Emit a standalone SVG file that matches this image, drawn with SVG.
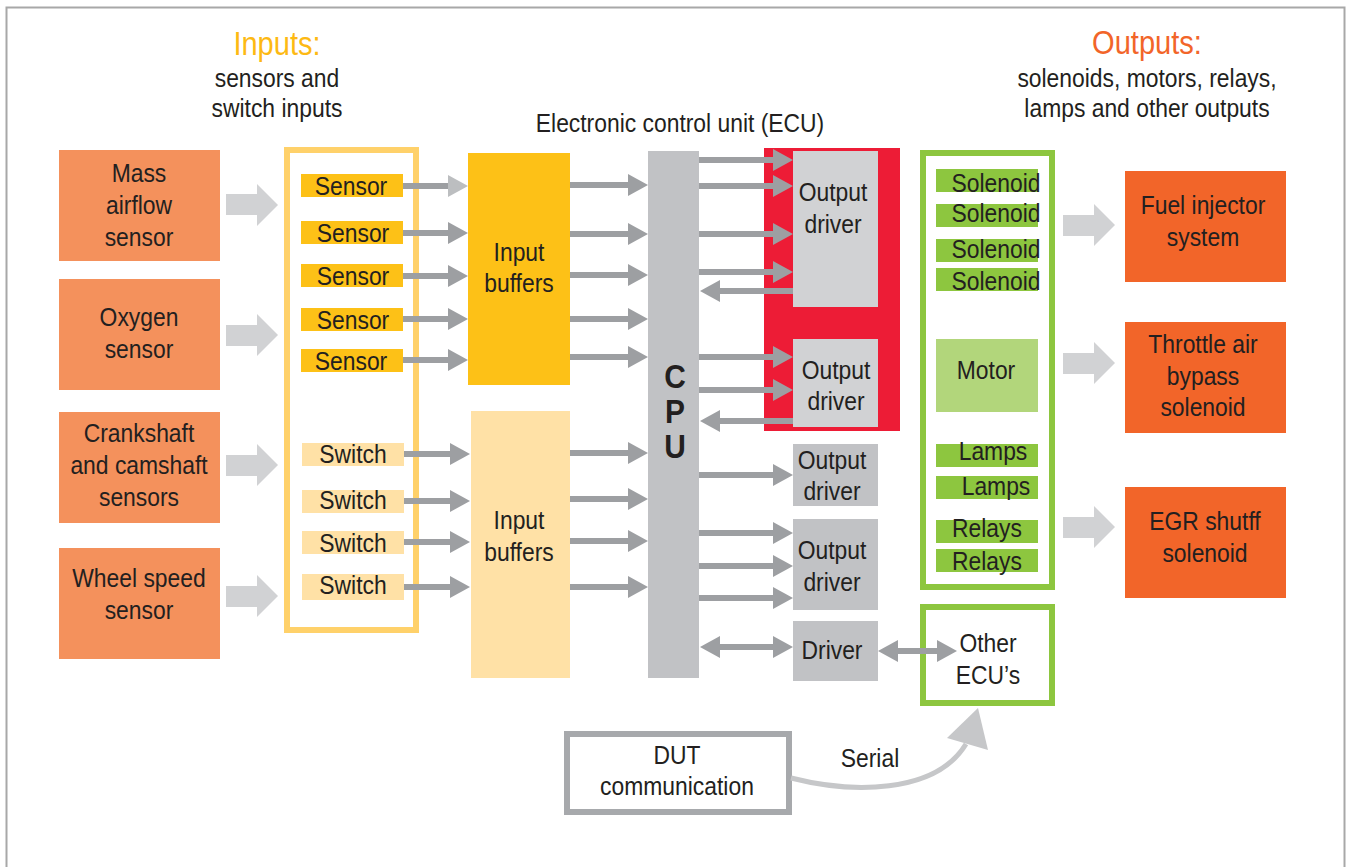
<svg xmlns="http://www.w3.org/2000/svg" width="1347" height="867" viewBox="0 0 1347 867">
<defs>
<style>
text{font-family:"Liberation Sans Narrow","Liberation Sans",Arial,sans-serif;fill:#231F20;text-anchor:middle;font-size:26px;transform-box:fill-box;transform-origin:center;transform:scaleX(0.88)}
.t{font-size:26px}
.h{font-size:33px}
.in{fill:#F4915C}
.out{fill:#F26529}
.blk{fill:#D1D2D4}
.yel{fill:#FDC117}
.lyel{fill:#FFE1A6}
.grn{fill:#8DC63F}
.cpu{fill:#C1C2C5}
.dl{fill:#D1D2D4}
.dd{fill:#C1C2C5}
.ar{stroke:#9D9FA2;stroke-width:6;fill:none;marker-end:url(#ah)}
.bi{stroke:#9D9FA2;stroke-width:6;fill:none;marker-end:url(#ah);marker-start:url(#ah)}
</style>
<marker id="ah" viewBox="0 0 20 22" refX="0" refY="11" markerWidth="20" markerHeight="22" markerUnits="userSpaceOnUse" orient="auto-start-reverse">
<path d="M0,0 L20,11 L0,22 Z" fill="#9D9FA2"/>
</marker>
<marker id="ahl" viewBox="0 0 20 22" refX="0" refY="11" markerWidth="20" markerHeight="22" markerUnits="userSpaceOnUse" orient="auto">
<path d="M0,0 L20,11 L0,22 Z" fill="#BCBEC0"/>
</marker>
</defs>
<rect x="0" y="0" width="1347" height="867" fill="#fff"/>
<rect x="6.5" y="7.5" width="1338" height="880" fill="none" stroke="#A8A8A8" stroke-width="2"/>

<g id="titles">
<text x="277" y="55" class="h" style="fill:#FDB913">Inputs:</text>
<text x="277" y="87" class="t">sensors and</text>
<text x="277" y="117" class="t">switch inputs</text>
<text x="1147" y="54" class="h" style="fill:#F26529">Outputs:</text>
<text x="1147" y="87" class="t">solenoids, motors, relays,</text>
<text x="1147" y="117" class="t">lamps and other outputs</text>
<text x="680" y="132" class="t">Electronic control unit (ECU)</text>
</g>

<g id="mass-airflow">
<rect class="in" x="59" y="150" width="161" height="111"/>
<text x="139" y="182">Mass</text><text x="139" y="214">airflow</text><text x="139" y="246">sensor</text>
</g>
<g id="oxygen">
<rect class="in" x="59" y="279" width="161" height="111"/>
<text x="139" y="326">Oxygen</text><text x="139" y="358">sensor</text>
</g>
<g id="crankshaft">
<rect class="in" x="59" y="412" width="161" height="111"/>
<text x="139" y="442">Crankshaft</text><text x="139" y="474">and camshaft</text><text x="139" y="506">sensors</text>
</g>
<g id="wheel-speed">
<rect class="in" x="59" y="548" width="161" height="111"/>
<text x="139" y="587">Wheel speed</text><text x="139" y="619">sensor</text>
</g>

<g id="input-frame">
<rect x="287" y="150" width="129" height="480" fill="none" stroke="#FFD16A" stroke-width="6"/>
<rect class="yel" x="301" y="174" width="102" height="23"/><text x="351" y="195">Sensor</text>
<rect class="yel" x="301" y="221" width="102" height="23"/><text x="353" y="242">Sensor</text>
<rect class="yel" x="301" y="264" width="102" height="23"/><text x="353" y="285">Sensor</text>
<rect class="yel" x="301" y="308" width="102" height="23"/><text x="353" y="329">Sensor</text>
<rect class="yel" x="301" y="349" width="102" height="23"/><text x="351" y="370">Sensor</text>
<rect class="lyel" x="302" y="443" width="102" height="23"/><text x="353" y="463">Switch</text>
<rect class="lyel" x="302" y="490" width="102" height="23"/><text x="353" y="509">Switch</text>
<rect class="lyel" x="302" y="531" width="102" height="23"/><text x="353" y="552">Switch</text>
<rect class="lyel" x="302" y="574" width="102" height="26"/><text x="353" y="594">Switch</text>
</g>

<g id="input-buffers-1">
<rect class="yel" x="468" y="153" width="102" height="232"/>
<text x="519" y="261">Input</text><text x="519" y="292">buffers</text>
</g>
<g id="input-buffers-2">
<rect class="lyel" x="471" y="411" width="99" height="267"/>
<text x="519" y="529">Input</text><text x="519" y="561">buffers</text>
</g>

<g id="cpu">
<rect class="cpu" x="648" y="151" width="51" height="527"/>
<text x="675" y="388" style="font-weight:bold;font-size:34px">C</text>
<text x="675" y="423" style="font-weight:bold;font-size:34px">P</text>
<text x="675" y="458" style="font-weight:bold;font-size:34px">U</text>
</g>

<g id="ecu-red">
<rect x="764" y="148" width="136" height="283" fill="#ED1C36"/>
</g>
<g id="output-driver-1">
<rect class="dl" x="793" y="151" width="85" height="156"/>
<text x="833" y="201">Output</text><text x="833" y="233">driver</text>
</g>
<g id="output-driver-2">
<rect class="dl" x="793" y="339" width="85" height="88"/>
<text x="836" y="379">Output</text><text x="836" y="410">driver</text>
</g>
<g id="output-driver-3">
<rect class="dd" x="793" y="444" width="85" height="62"/>
<text x="832" y="469">Output</text><text x="832" y="500">driver</text>
</g>
<g id="output-driver-4">
<rect class="dd" x="793" y="519" width="85" height="91"/>
<text x="832" y="559">Output</text><text x="832" y="591">driver</text>
</g>
<g id="driver">
<rect class="dd" x="793" y="621" width="85" height="60"/>
<text x="832" y="659">Driver</text>
</g>

<g id="output-frame">
<rect x="923" y="153" width="129" height="434" fill="none" stroke="#8DC63F" stroke-width="6"/>
<rect class="grn" x="936" y="169" width="102" height="23"/><text x="996" y="192">Solenoid</text>
<rect class="grn" x="936" y="204" width="102" height="23"/><text x="996" y="222">Solenoid</text>
<rect class="grn" x="936" y="239" width="102" height="23"/><text x="996" y="258">Solenoid</text>
<rect class="grn" x="936" y="268" width="102" height="23"/><text x="996" y="290">Solenoid</text>
<rect x="936" y="339" width="102" height="73" fill="#B2D67B"/><text x="986" y="379">Motor</text>
<rect class="grn" x="936" y="444" width="102" height="23"/><text x="993" y="460">Lamps</text>
<rect class="grn" x="936" y="476" width="102" height="23"/><text x="996" y="495">Lamps</text>
<rect class="grn" x="936" y="520" width="102" height="23"/><text x="987" y="537">Relays</text>
<rect class="grn" x="936" y="549" width="102" height="23"/><text x="987" y="570">Relays</text>
</g>

<g id="other-ecus">
<rect x="923" y="607" width="129" height="96" fill="none" stroke="#8DC63F" stroke-width="6"/>
<text x="988" y="652">Other</text><text x="988" y="684">ECU’s</text>
</g>

<g id="fuel-injector">
<rect class="out" x="1125" y="171" width="161" height="111"/>
<text x="1203" y="214">Fuel injector</text><text x="1203" y="246">system</text>
</g>
<g id="throttle">
<rect class="out" x="1125" y="322" width="161" height="111"/>
<text x="1203" y="353">Throttle air</text><text x="1203" y="385">bypass</text><text x="1203" y="416">solenoid</text>
</g>
<g id="egr">
<rect class="out" x="1125" y="487" width="161" height="111"/>
<text x="1205" y="530">EGR shutff</text><text x="1205" y="562">solenoid</text>
</g>

<g id="dut">
<rect x="567" y="734" width="222" height="78" fill="#fff" stroke="#A7A9AC" stroke-width="6"/>
<text x="677" y="764">DUT</text><text x="677" y="795">communication</text>
</g>

<g id="connectors">
<polygon class="blk" points="226,194 257,194 257,184 278,205 257,226 257,215 226,215"/>
<polygon class="blk" points="226,325 257,325 257,314 278,335 257,356 257,346 226,346"/>
<polygon class="blk" points="226,455 257,455 257,444 278,465 257,486 257,476 226,476"/>
<polygon class="blk" points="226,586 257,586 257,575 278,596 257,617 257,607 226,607"/>
<polygon class="blk" points="1063,215 1094,215 1094,204 1115,225 1094,246 1094,236 1063,236"/>
<polygon class="blk" points="1063,353 1094,353 1094,342 1115,363 1094,384 1094,374 1063,374"/>
<polygon class="blk" points="1063,517 1094,517 1094,506 1115,527 1094,548 1094,538 1063,538"/>

<line x1="403" y1="186" x2="448" y2="186" stroke="#9D9FA2" stroke-width="6" marker-end="url(#ahl)"/>
<line class="ar" x1="403" y1="233" x2="448" y2="233"/>
<line class="ar" x1="403" y1="276" x2="448" y2="276"/>
<line class="ar" x1="403" y1="319" x2="448" y2="319"/>
<line class="ar" x1="403" y1="360" x2="448" y2="360"/>
<line class="ar" x1="404" y1="454" x2="450" y2="454"/>
<line class="ar" x1="404" y1="501" x2="450" y2="501"/>
<line class="ar" x1="404" y1="542" x2="450" y2="542"/>
<line class="ar" x1="404" y1="587" x2="450" y2="587"/>

<line class="ar" x1="570" y1="185" x2="628" y2="185"/>
<line class="ar" x1="570" y1="234" x2="628" y2="234"/>
<line class="ar" x1="570" y1="275" x2="628" y2="275"/>
<line class="ar" x1="570" y1="319" x2="628" y2="319"/>
<line class="ar" x1="570" y1="357" x2="628" y2="357"/>
<line class="ar" x1="570" y1="453" x2="628" y2="453"/>
<line class="ar" x1="570" y1="499" x2="628" y2="499"/>
<line class="ar" x1="570" y1="541" x2="628" y2="541"/>
<line class="ar" x1="570" y1="587" x2="628" y2="587"/>

<line class="ar" x1="699" y1="160" x2="773" y2="160"/>
<line class="ar" x1="699" y1="186" x2="773" y2="186"/>
<line class="ar" x1="699" y1="234" x2="773" y2="234"/>
<line class="ar" x1="699" y1="272" x2="773" y2="272"/>
<line class="ar" x1="793" y1="291" x2="720" y2="291"/>
<line class="ar" x1="699" y1="357" x2="773" y2="357"/>
<line class="ar" x1="699" y1="390" x2="773" y2="390"/>
<line class="ar" x1="793" y1="421" x2="720" y2="421"/>
<line class="ar" x1="699" y1="475" x2="773" y2="475"/>
<line class="ar" x1="699" y1="533" x2="773" y2="533"/>
<line class="ar" x1="699" y1="566" x2="773" y2="566"/>
<line class="ar" x1="699" y1="598" x2="773" y2="598"/>
<line class="bi" x1="720" y1="647" x2="773" y2="647"/>
<line class="bi" x1="898" y1="651" x2="937" y2="651"/>

<path d="M791,778 C850,793 935,795 966,744" fill="none" stroke="#C6C7C9" stroke-width="5"/>
<polygon points="978,708 988,750 947,738" fill="#C6C7C9"/>
<text x="870" y="767">Serial</text>
</g>
</svg>
